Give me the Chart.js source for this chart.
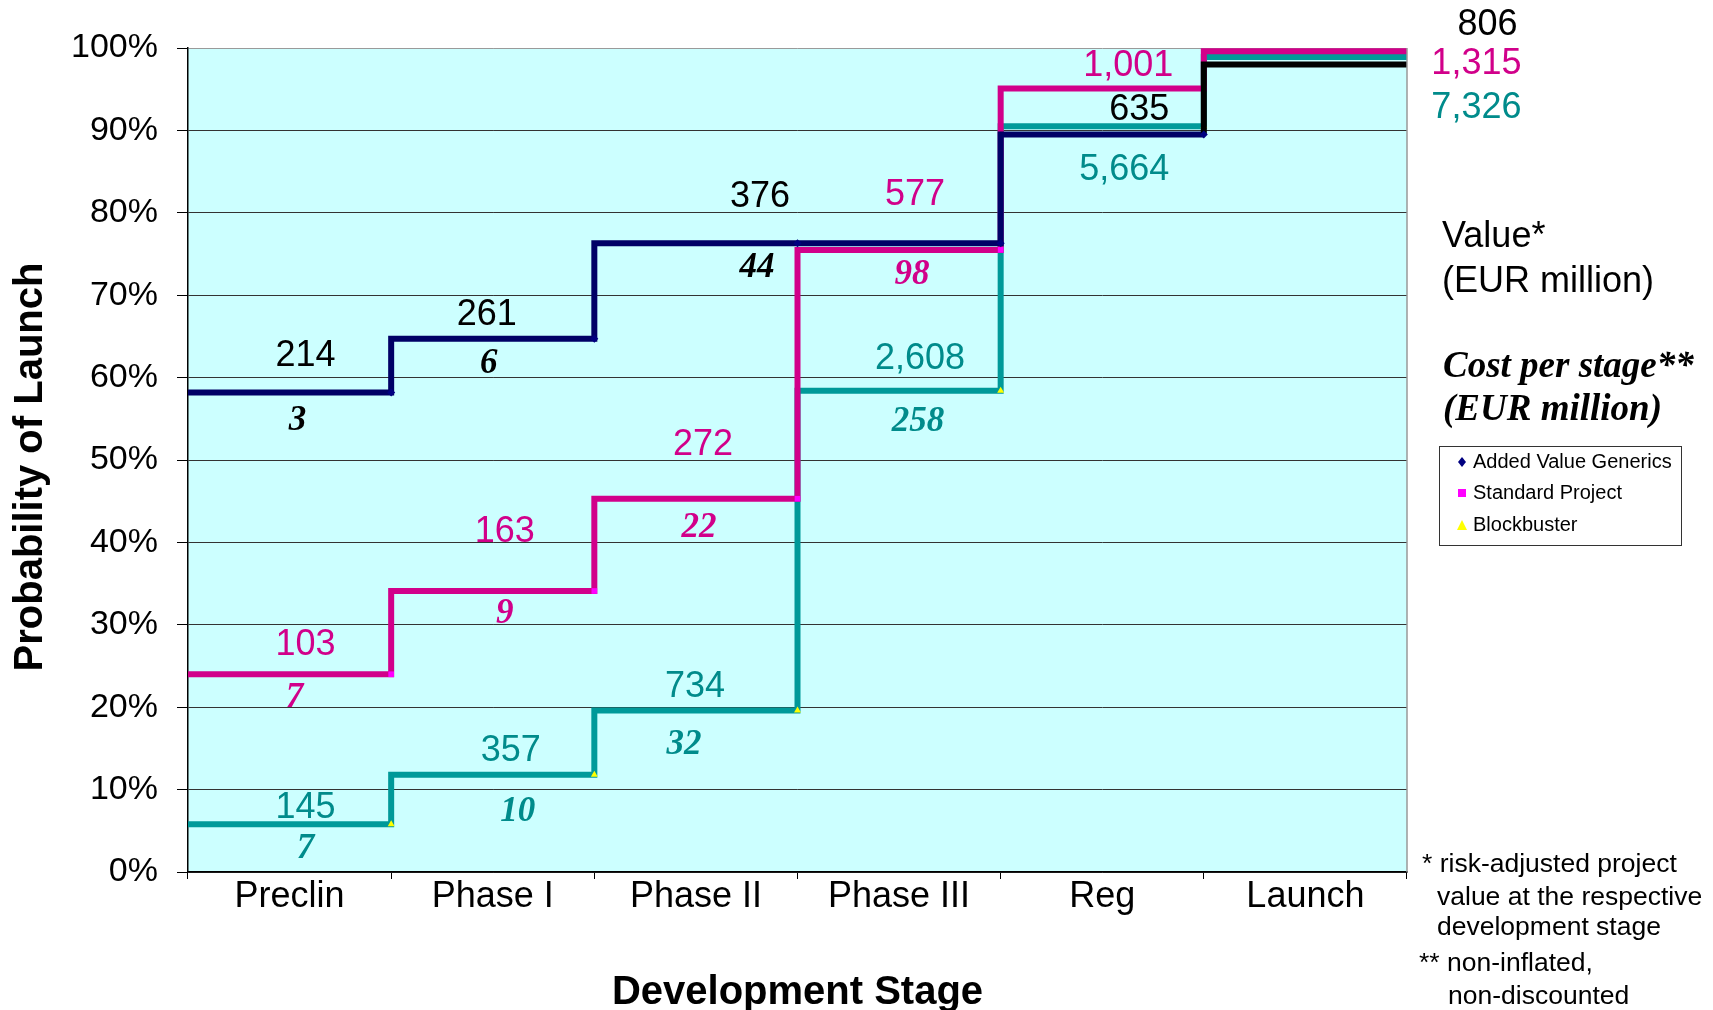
<!DOCTYPE html>
<html><head><meta charset="utf-8">
<script src="https://cdn.jsdelivr.net/npm/chart.js@4.4.1/dist/chart.umd.min.js"></script>
<style>html,body{margin:0;padding:0;background:#fff;}#wrap{width:1713px;height:1010px;position:relative;}</style>
</head><body><div id="wrap"><canvas id="c" width="1713" height="1010"></canvas></div>
<script>
// ---------------- data ----------------
const stages = ['Preclin', 'Phase I', 'Phase II', 'Phase III', 'Reg', 'Launch'];
const seriesNames = ['Added Value Generics', 'Standard Project', 'Blockbuster'];
const probGenerics    = [58.2, 64.7, 76.3, 76.3, 89.5, 98.0];
const probStandard    = [24.0, 34.1, 45.3, 75.5, 95.1, 99.6];
const probBlockbuster = [5.8, 11.8, 19.6, 58.4, 90.5, 98.9];
const valueGenerics    = [214, 261, 376, null, 635, 806];
const valueStandard    = [103, 163, 272, 577, 1001, 1315];
const valueBlockbuster = [145, 357, 734, 2608, 5664, 7326];
const costGenerics    = [3, 6, 44, null, null, null];
const costStandard    = [7, 9, 22, 98, null, null];
const costBlockbuster = [7, 10, 32, 258, null, null];
const yTickValues = [0, 10, 20, 30, 40, 50, 60, 70, 80, 90, 100];
const yAxisTitle = 'Probability of Launch';
const xAxisTitle = 'Development Stage';
const sideNotes = ['Value*', '(EUR million)'];
const sideNotesCost = ['Cost per stage**', '(EUR million)'];
const footnotes = ['* risk-adjusted project', 'value at the respective', 'development stage', '** non-inflated,', 'non-discounted'];

// ---------------- layout / style ----------------
const SANS = "'Liberation Sans', Arial, sans-serif";
const SERIF = "'Liberation Serif', 'Times New Roman', serif";
const lineColors = ['#000066', '#D1008A', '#009999'];
const textColors = ['#000000', '#D1008A', '#008B8B'];
const markerColors = ['#000080', '#FF00FF', '#FFFF00'];
const markerStyles = ['rectRot', 'rect', 'triangle'];
const LABEL_SHIFT = 3;
// label offsets in px relative to (segment centre, segment level)
const valueOffsets = [
  [[16, -39], [-6, -27], [64, -49], null, [37, -27], [182, -42]],
  [[16, -32], [12, -62], [7, -57], [16, -58], [26, -25], [171, 10]],
  [[16, -19], [18, -27], [-1, -26], [21, -35], [22, 41], [171, 48]]
];
const costOffsets = [
  [[8, 26], [-4, 22], [61, 22], null, null, null],
  [[5, 21], [12, 20], [3, 26], [13, 22], null, null],
  [[16, 22], [25, 34], [-12, 31], [19, 28], null, null]
];

const probs = [probGenerics, probStandard, probBlockbuster];
const values = [valueGenerics, valueStandard, valueBlockbuster];
const costs = [costGenerics, costStandard, costBlockbuster];

const mkPoints = p => [{x: 0, y: p[0]}].concat(p.map((v, i) => ({x: i + 1, y: v})));
const lastIdx = stages.length;

const datasets = probs.map((p, s) => ({
  label: seriesNames[s],
  data: mkPoints(p),
  xAxisID: 'xs',
  yAxisID: 'y',
  stepped: 'after',
  borderColor: lineColors[s],
  borderWidth: 6,
  borderCapStyle: 'butt',
  borderJoinStyle: 'miter',
  fill: false,
  pointStyle: markerStyles[s],
  pointRadius: ctx => (ctx.dataIndex === 0 || ctx.dataIndex === lastIdx) ? 0 : 4,
  pointBackgroundColor: markerColors[s],
  pointBorderColor: markerColors[s],
  pointBorderWidth: 0,
  segment: s === 0 ? { borderColor: ctx => ctx.p1DataIndex === lastIdx ? '#000000' : undefined } : {}
}));

const decoPlugin = {
  id: 'deco',
  beforeDraw(chart) {
    const {ctx, chartArea: a} = chart;
    ctx.save();
    ctx.fillStyle = '#CCFFFF';
    ctx.fillRect(a.left, a.top, a.right - a.left, a.bottom - a.top);
    ctx.restore();
  },
  afterDraw(chart) {
    const {ctx, chartArea: a} = chart;
    const xs = chart.scales.xs, y = chart.scales.y;
    ctx.save();
    // right border of plot
    ctx.strokeStyle = '#999999'; ctx.lineWidth = 1.5;
    ctx.beginPath(); ctx.moveTo(a.right, a.top); ctx.lineTo(a.right, a.bottom); ctx.stroke();

    ctx.textBaseline = 'middle';
    ctx.textAlign = 'center';
    // value and cost labels
    for (let s = 0; s < 3; s++) {
      for (let i = 0; i < stages.length; i++) {
        const cx = xs.getPixelForValue(i + 0.5);
        const cy = y.getPixelForValue(probs[s][i]) + LABEL_SHIFT;
        if (values[s][i] != null && valueOffsets[s][i]) {
          ctx.fillStyle = textColors[s];
          ctx.font = `36px ${SANS}`;
          ctx.fillText(values[s][i].toLocaleString('en-US'), cx + valueOffsets[s][i][0], cy + valueOffsets[s][i][1]);
        }
        if (costs[s][i] != null && costOffsets[s][i]) {
          ctx.fillStyle = textColors[s];
          ctx.font = `italic bold 35px ${SERIF}`;
          ctx.fillText(String(costs[s][i]), cx + costOffsets[s][i][0], cy + costOffsets[s][i][1]);
        }
      }
    }
    // axis titles
    ctx.fillStyle = '#000';
    ctx.font = `bold 40px ${SANS}`;
    ctx.fillText(xAxisTitle, (a.left + a.right) / 2, 993);
    ctx.save();
    ctx.translate(31, 467);
    ctx.rotate(-Math.PI / 2);
    ctx.fillText(yAxisTitle, 0, 0);
    ctx.restore();

    // side notes
    ctx.textAlign = 'left';
    ctx.font = `36px ${SANS}`;
    ctx.fillText(sideNotes[0], 1442, 237);
    ctx.fillText(sideNotes[1], 1442, 282);
    ctx.font = `italic bold 37px ${SERIF}`;
    ctx.fillText(sideNotesCost[0], 1443, 367);
    ctx.fillText(sideNotesCost[1], 1443, 410);

    // legend box
    ctx.strokeStyle = '#333'; ctx.lineWidth = 1;
    ctx.strokeRect(1439.5, 446.5, 242, 99);
    const rows = [462, 493, 525];
    ctx.font = `20px ${SANS}`;
    for (let s = 0; s < 3; s++) {
      const mx = 1462, my = rows[s];
      ctx.fillStyle = markerColors[s];
      ctx.beginPath();
      if (s === 0) { ctx.moveTo(mx, my - 5); ctx.lineTo(mx + 4, my); ctx.lineTo(mx, my + 5); ctx.lineTo(mx - 4, my); }
      else if (s === 1) { ctx.rect(mx - 4, my - 4, 8, 8); }
      else { ctx.moveTo(mx, my - 5); ctx.lineTo(mx + 5, my + 5); ctx.lineTo(mx - 5, my + 5); }
      ctx.closePath(); ctx.fill();
      ctx.fillStyle = '#000';
      ctx.fillText(seriesNames[s], 1473, my);
    }

    // footnotes
    ctx.font = `26.5px ${SANS}`;
    const fx = [1422, 1437, 1437, 1419, 1448];
    const fy = [865, 898, 928, 964, 997];
    footnotes.forEach((t, k) => ctx.fillText(t, fx[k], fy[k]));
    ctx.restore();
  }
};

new Chart(document.getElementById('c'), {
  type: 'line',
  data: { labels: stages, datasets },
  options: {
    responsive: false,
    animation: false,
    events: [],
    layout: { padding: { top: 48, right: 306, bottom: 0, left: 0 } },
    plugins: { legend: { display: false }, tooltip: { enabled: false } },
    scales: {
      x: {
        type: 'category', labels: stages, offset: true, position: 'bottom',
        grid: { offset: true, drawOnChartArea: false, drawTicks: true, tickLength: 7, color: '#000', lineWidth: 1 },
        border: { display: true, color: '#000', width: 1.5 },
        ticks: { color: '#000', font: { family: SANS, size: 36 }, padding: -4, maxRotation: 0, autoSkip: false },
        afterFit: s => { s.height = 138; }
      },
      xs: { type: 'linear', min: 0, max: stages.length, display: false },
      y: {
        type: 'linear', min: 0, max: 100,
        afterBuildTicks: s => { s.ticks = yTickValues.map(v => ({ value: v })); },
        ticks: { color: '#000', font: { family: SANS, size: 34 }, padding: 19, callback: v => v + '%' },
        grid: { color: c => (c.tick && c.tick.value === 100) ? '#9a9a9a' : '#333333', tickColor: '#000', tickLength: 11, lineWidth: 1 },
        border: { display: true, color: '#000', width: 1.5 },
        afterFit: s => { s.width = 188; }
      }
    }
  },
  plugins: [decoPlugin]
});
</script></body></html>
